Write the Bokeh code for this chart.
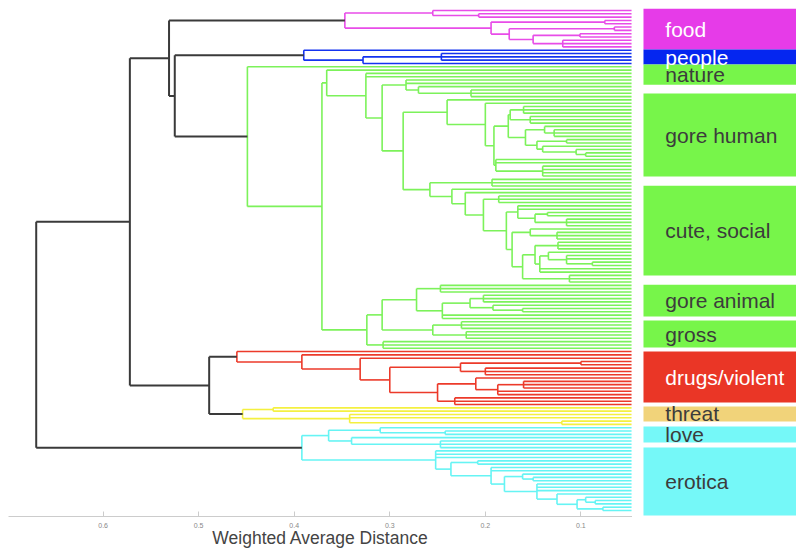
from bokeh.plotting import figure
from bokeh.models import Range1d, ColumnDataSource, FixedTicker
from bokeh.layouts import row
from bokeh.embed import file_html
from bokeh.resources import INLINE

# ---------------- data ----------------
# Each node: [merge distance, child, child, ...]; an integer child n = n leaves.
food_tree = [0.347,
             [0.255, 1, [0.207, 2]],
             [0.194, [0.075, 2],
              [0.175, [0.065, 2],
               [0.150, [0.101, 2], [0.119, 3]]]]]

people_tree = [0.390, 1, [0.328, [0.246, 3], 1]]

green_f1 = [0.283, 2, [0.270, 1, [0.215, 3]]]
green_f2a = [0.240, 1, [0.200, 1, [0.191,
             [0.176, [0.174, [0.160, 3], [0.153, 3]],
              [0.158, [0.138, 1, [0.128, 3]],
               [0.146, [0.115, 2], [0.140, 1, [0.105, 1, [0.095, 2]]]]]],
             [0.189, 2, [0.140, 4]]]]]
green_f2b = [0.258, [0.193, 3],
             [0.235, 1,
              [0.221, 1,
               [0.202, [0.186, 3],
                [0.178, [0.166, 2, [0.148, [0.135, 2], [0.115, 3]]],
                 [0.172, [0.153, 1, [0.125, 3]],
                  [0.161, [0.148, [0.124, 3],
                           [0.143, [0.134, 1, [0.115, 2, [0.088, 2]]], 2]],
                   [0.112, 3]]]]]]]]
green_d = [0.324,
           [0.308,
            [0.272, [0.247, 3],
             [0.245, [0.216, [0.202, 3], [0.192, 1, [0.161, 2]]], 2]],
            [0.255, [0.225, 3], [0.220, 3]]],
           [0.307, 3]]
green_tree = [0.449, 1,
              [0.371,
               [0.366, 1, [0.325, 2, [0.308, green_f1, [0.286, green_f2a, green_f2b]]]],
               green_d]]

red_tree = [0.460, 1, [0.392, 1, [0.331, 1, [0.300,
            [0.226, [0.100, 2], [0.200, 3]],
            [0.250, [0.210, 1, [0.187, [0.160, 3], 2]], [0.232, 3]]]]]]

yellow_tree = [0.454, [0.422, 2], [0.342, 2, [0.120, 2]]]

cyan_tree = [0.392,
             [0.364, [0.310, 1, [0.242, 2]], [0.340, 1, [0.247, 3]]],
             [0.252, 3, [0.236, [0.208, 2],
              [0.194, 2, [0.180, [0.161, 1, [0.150, 2]],
               [0.146, 3, [0.125, 1, [0.104, [0.095, 1, [0.085, 2]], [0.077, 2]]]]]]]]]

# links above the colour threshold (black)
top_tree = [0.670,
            [0.572,
             [0.531, "food", [0.525, "people", "green"]],
             [0.489, "red", "yellow"]],
            "cyan"]

cluster_trees = {"food": food_tree, "people": people_tree, "green": green_tree,
                 "red": red_tree, "yellow": yellow_tree, "cyan": cyan_tree}
cluster_line_colors = {"food": "#e84ce8", "people": "#1433f0", "green": "#7cf25a",
                       "red": "#ec3a2a", "yellow": "#f4f040", "cyan": "#66f4f4"}

categories = ["food", "people", "nature", "gore human", "cute, social", "gore animal",
              "gross", "drugs/violent", "threat", "love", "erotica"]
# category spans, in leaf-order units
cat_top = [-0.6, 11.8, 16.3, 25.1, 52.9, 82.8, 93.6, 103.0, 119.6, 125.6, 132.0]
cat_bottom = [11.8, 16.3, 22.4, 50.1, 80.0, 92.4, 101.8, 118.4, 124.1, 130.5, 152.5]
cat_colors = ["#e63be8", "#0526f0", "#77f54a", "#77f54a", "#77f54a", "#77f54a",
              "#77f54a", "#ea3626", "#f1d37a", "#75f8f8", "#75f8f8"]
cat_text_colors = ["#ffffff", "#ffffff", "#3c3c3c", "#3c3c3c", "#3c3c3c", "#3c3c3c",
                   "#3c3c3c", "#ffffff", "#3c3c3c", "#3c3c3c", "#3c3c3c"]

x_ticks = [0.1, 0.2, 0.3, 0.4, 0.5, 0.6]
x_max, x_min = 0.699, 0.046
leaf_height = 0.047

# ---------------- dendrogram layout ----------------
segs = dict(x0=[], y0=[], x1=[], y1=[], color=[], width=[])
counter = [0]


def add(x0, y0, x1, y1, color, w):
    segs["x0"].append(x0); segs["y0"].append(y0)
    segs["x1"].append(x1); segs["y1"].append(y1)
    segs["color"].append(color); segs["width"].append(w)


def layout(node, color, w):
    if isinstance(node, str):
        return layout(cluster_trees[node], cluster_line_colors[node], 1.6)
    h = node[0]
    pos = []
    for c in node[1:]:
        if isinstance(c, int):
            for _ in range(c):
                pos.append((leaf_height, counter[0]))
                counter[0] += 1
        else:
            pos.append(layout(c, color, w))
    ys = [p[1] for p in pos]
    add(h, min(ys), h, max(ys), color, w)
    for ch, cy in pos:
        add(h, cy, ch, cy, color, w)
    return h, (ys[0] + ys[-1]) / 2.0


layout(top_tree, "#3a3a3a", 2.0)
n_leaves = counter[0]
px_per_leaf = 500.0 / (n_leaves - 1)
y_range = Range1d(n_leaves - 1 + 6.0 / px_per_leaf, -2.0 / px_per_leaf)

p = figure(frame_width=624, frame_height=508, output_backend="svg", toolbar_location=None,
           x_range=Range1d(x_max, x_min), y_range=y_range,
           min_border_left=8, min_border_right=0, min_border_top=8, min_border_bottom=0)
p.segment("x0", "y0", "x1", "y1", source=ColumnDataSource(segs), line_color="color",
          line_width="width")
p.yaxis.visible = False
p.grid.visible = False
p.outline_line_color = None
p.xaxis.ticker = FixedTicker(ticks=x_ticks)
p.xaxis.axis_label = "Weighted Average Distance"
p.xaxis.axis_label_text_font = "Liberation Sans"
p.xaxis.axis_label_text_font_style = "normal"
p.xaxis.axis_label_text_font_size = "17.5px"
p.xaxis.axis_label_text_color = "#444444"
p.xaxis.axis_label_standoff = -3
p.xaxis.major_label_text_font_size = "7px"
p.xaxis.major_label_text_color = "#888888"
p.xaxis.major_label_standoff = 6
p.xaxis.major_tick_in = 5
p.xaxis.major_tick_out = 0
p.xaxis.minor_tick_line_color = None
p.xaxis.axis_line_color = "#cccccc"
p.xaxis.major_tick_line_color = "#cccccc"
p.background_fill_color = "white"

# ---------------- category boxes ----------------
q = figure(frame_width=164, frame_height=508, output_backend="svg", toolbar_location=None,
           x_range=Range1d(0, 1), y_range=y_range,
           min_border_left=0, min_border_right=0, min_border_top=8, min_border_bottom=26)
q.axis.visible = False
q.grid.visible = False
q.outline_line_color = None
box_left = 0.067
label_x = 0.20
cat_src = ColumnDataSource(dict(
    name=categories, top=cat_top, bottom=cat_bottom, fill=cat_colors, tc=cat_text_colors,
    left=[box_left] * len(categories), right=[1.0] * len(categories),
    lx=[label_x] * len(categories),
    ly=[(a + b) / 2.0 for a, b in zip(cat_top, cat_bottom)]))
q.quad(left="left", right="right", top="top", bottom="bottom", source=cat_src,
       fill_color="fill", line_color=None)
q.text(x="lx", y="ly", text="name", source=cat_src, text_color="tc",
       text_font_size="21px", text_baseline="middle", text_align="left",
       text_font={"value": "Liberation Sans"})

layout_row = row(p, q, spacing=0)
open("out.html", "w").write(file_html(layout_row, INLINE))
